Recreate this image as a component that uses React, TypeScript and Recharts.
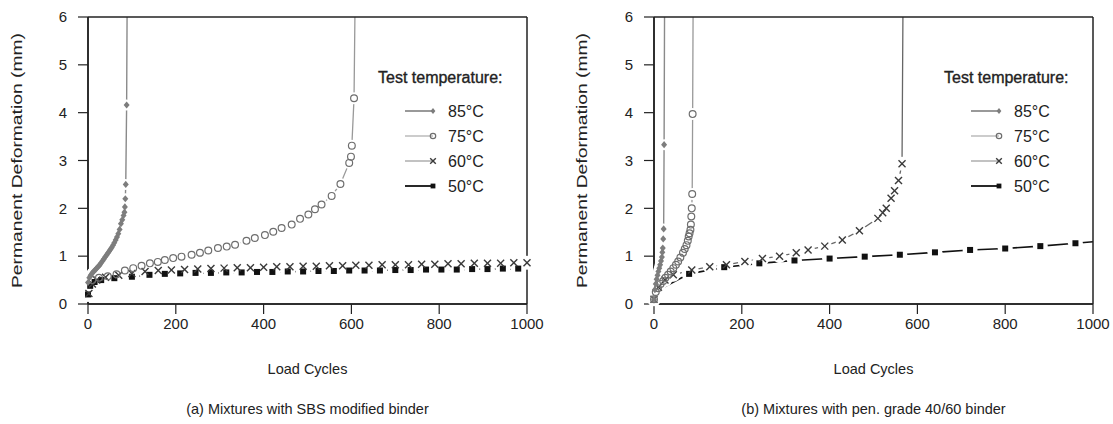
import { ComposedChart, Line, XAxis, YAxis, ReferenceLine, Legend, Label } from "recharts";

const xTicks = [0, 200, 400, 600, 800, 1000];
const yTicks = [0, 1, 2, 3, 4, 5, 6];
const temps = ["85°C", "75°C", "60°C", "50°C"];

// (a) mixtures with SBS modified binder
const a85x = [0, 3, 6, 9, 12, 15, 18, 21, 24, 27, 30, 33, 36, 39, 42, 45, 48, 51, 54, 57, 60, 63, 66, 69, 72, 75, 78, 81, 83, 84, 85, 86, 88, 89];
const a85y = [0.45, 0.55, 0.6, 0.64, 0.67, 0.7, 0.73, 0.76, 0.79, 0.82, 0.86, 0.9, 0.94, 0.98, 1.02, 1.06, 1.1, 1.14, 1.18, 1.23, 1.28, 1.34, 1.4, 1.47, 1.56, 1.68, 1.76, 1.85, 1.92, 2.03, 2.2, 2.5, 4.16, 6];
const a75x = [10, 25, 45, 65, 84, 103, 122, 141, 159, 175, 194, 213, 236, 255, 274, 296, 316, 335, 361, 380, 403, 422, 441, 464, 483, 502, 517, 532, 555, 575, 595, 599, 601, 606, 608];
const a75y = [0.5, 0.55, 0.58, 0.62, 0.7, 0.75, 0.8, 0.85, 0.88, 0.92, 0.96, 0.99, 1.03, 1.07, 1.12, 1.17, 1.2, 1.24, 1.32, 1.38, 1.44, 1.51, 1.59, 1.66, 1.78, 1.87, 1.98, 2.08, 2.26, 2.51, 2.95, 3.08, 3.31, 4.3, 6];
const a60x = [2, 10, 20, 40, 70, 100, 130, 160, 190, 220, 250, 280, 310, 340, 370, 400, 430, 460, 490, 520, 550, 580, 610, 640, 670, 700, 730, 760, 790, 820, 850, 880, 910, 940, 970, 1000];
const a60y = [0.22, 0.42, 0.5, 0.56, 0.6, 0.64, 0.68, 0.7, 0.71, 0.72, 0.73, 0.74, 0.75, 0.76, 0.76, 0.77, 0.78, 0.78, 0.79, 0.79, 0.8, 0.8, 0.81, 0.81, 0.82, 0.82, 0.82, 0.83, 0.83, 0.84, 0.84, 0.85, 0.85, 0.85, 0.86, 0.86];
const a50x = [0, 5, 15, 30, 60, 100, 140, 175, 210, 245, 280, 315, 350, 385, 420, 455, 490, 525, 560, 595, 630, 665, 700, 735, 770, 805, 840, 875, 910, 945, 980];
const a50y = [0.2, 0.38, 0.46, 0.5, 0.54, 0.57, 0.61, 0.63, 0.64, 0.65, 0.65, 0.66, 0.66, 0.67, 0.67, 0.68, 0.68, 0.69, 0.69, 0.7, 0.7, 0.7, 0.71, 0.71, 0.72, 0.72, 0.72, 0.73, 0.73, 0.74, 0.74];

// (b) mixtures with pen. grade 40/60 binder
const b85x = [0, 2, 4, 6, 8, 10, 12, 14, 16, 18, 19, 20, 21, 22, 23, 24];
const b85y = [0.1, 0.3, 0.42, 0.52, 0.6, 0.68, 0.75, 0.82, 0.9, 0.98, 1.08, 1.17, 1.36, 1.57, 3.33, 6];
const b75x = [0, 4, 9, 15, 21, 26, 32, 38, 44, 50, 55, 60, 66, 70, 74, 77, 79, 81, 83, 84, 85, 86, 87, 88, 89];
const b75y = [0.1, 0.25, 0.33, 0.42, 0.48, 0.55, 0.61, 0.68, 0.75, 0.82, 0.89, 0.97, 1.07, 1.15, 1.23, 1.32, 1.41, 1.48, 1.55, 1.66, 1.83, 2.0, 2.3, 3.97, 6];
const b60x = [0, 10, 25, 44, 86, 127, 165, 207, 247, 286, 324, 351, 389, 429, 468, 510, 521, 529, 540, 548, 557, 565, 567];
const b60y = [0.1, 0.35, 0.5, 0.61, 0.71, 0.78, 0.82, 0.89, 0.95, 1.0, 1.07, 1.13, 1.21, 1.34, 1.53, 1.79, 1.91, 2.0, 2.21, 2.37, 2.58, 2.93, 6];
const b50x = [20, 80, 160, 240, 320, 400, 480, 560, 640, 720, 800, 880, 960, 1000];
const b50y = [0.34, 0.63, 0.77, 0.85, 0.91, 0.95, 0.99, 1.03, 1.08, 1.13, 1.16, 1.21, 1.27, 1.3];
const b50bare = [20, 1000];

type Kind = "diamond" | "circle" | "cross" | "square";
type Pt = { x: number; y: number; bare: boolean };

const pts = (xs: number[], ys: number[], bareX: number[] = []): Pt[] =>
  xs.map((x, i) => ({ x, y: ys[i], bare: ys[i] >= 6 || bareX.includes(x) }));

const SERIES: { kind: Kind; stroke: string; width: number; halo: number; legendStroke: string }[] = [
  { kind: "diamond", stroke: "#8a8a8a", width: 1.4, halo: 5.5, legendStroke: "#555" },
  { kind: "circle", stroke: "#999", width: 1.3, halo: 6, legendStroke: "#aaa" },
  { kind: "cross", stroke: "#666", width: 1.3, halo: 7, legendStroke: "#999" },
  { kind: "square", stroke: "#111", width: 1.6, halo: 7.5, legendStroke: "#111" },
];

const FONT = "'Liberation Sans', Arial, sans-serif";

function Marker({ kind, cx, cy, s = 1 }: { kind: Kind; cx: number; cy: number; s?: number }) {
  if (kind === "diamond")
    return (
      <polygon
        points={`${cx},${cy - 3.6 * s} ${cx + 3 * s},${cy} ${cx},${cy + 3.6 * s} ${cx - 3 * s},${cy}`}
        fill="#7d7d7d"
      />
    );
  if (kind === "circle") return <circle cx={cx} cy={cy} r={3.4 * s} fill="none" stroke="#6e6e6e" strokeWidth={1.2} />;
  if (kind === "cross") {
    const d = 3.5 * s;
    return (
      <g stroke="#3a3a3a" strokeWidth={1.4}>
        <line x1={cx - d} y1={cy - d} x2={cx + d} y2={cy + d} />
        <line x1={cx - d} y1={cy + d} x2={cx + d} y2={cy - d} />
      </g>
    );
  }
  return <rect x={cx - 3 * s} y={cy - 3 * s} width={6 * s} height={6 * s} fill="#111" />;
}

const dotFor = (kind: Kind) => (p: any) =>
  p.payload?.bare ? <g key={p.index} /> : <Marker key={p.index} kind={kind} cx={p.cx} cy={p.cy} />;

const haloFor = (r: number) => (p: any) =>
  p.payload?.bare ? <g key={p.index} /> : <circle key={p.index} cx={p.cx} cy={p.cy} r={r} fill="#fff" />;

function LegendBox() {
  return (
    <svg width={160} height={140} style={{ fontFamily: FONT }}>
      <text x={8} y={23} fontSize={16} fill="#222" stroke="#222" strokeWidth={0.35}>
        Test temperature:
      </text>
      {temps.map((t, i) => {
        const cy = 51 + i * 25;
        const s = SERIES[i];
        return (
          <g key={t}>
            <line x1={35} x2={63} y1={cy} y2={cy} stroke={s.legendStroke} strokeWidth={i === 3 ? 1.8 : 1.2} />
            <Marker kind={s.kind} cx={63} cy={cy} s={0.8} />
            <text x={78} y={cy} fontSize={16} fill="#222" dominantBaseline="central">
              {t}
            </text>
          </g>
        );
      })}
    </svg>
  );
}

type PanelProps = {
  series: Pt[][];
  caption: string;
  yAxisWidth: number;
  right: number;
  labelX: number;
  legendLeft: number;
};

function Panel({ series, caption, yAxisWidth, right, labelX, legendLeft }: PanelProps) {
  const order = [3, 2, 1, 0];
  const axisStroke = { stroke: "#222", strokeWidth: 1.5 };
  return (
    <ComposedChart width={556} height={424} margin={{ top: 17, right, bottom: 90, left: 0 }}>
      <XAxis
        type="number"
        dataKey="x"
        domain={[0, 1000]}
        ticks={xTicks}
        interval={0}
        height={30}
        tickSize={10}
        tickMargin={4}
        axisLine={axisStroke}
        tickLine={{ stroke: "#222", strokeWidth: 1.2 }}
        tick={{ fill: "#222", fontSize: 15 }}
      >
        <Label value="Load Cycles" position="bottom" offset={30} style={{ fontSize: 14.5, fill: "#222" }} />
        <Label value={caption} position="bottom" offset={70} style={{ fontSize: 14.5, fill: "#222" }} />
      </XAxis>
      <YAxis
        type="number"
        domain={[0, 6]}
        ticks={yTicks}
        interval={0}
        width={yAxisWidth}
        tickSize={10}
        tickMargin={11}
        axisLine={axisStroke}
        tickLine={{ stroke: "#222", strokeWidth: 1.2 }}
        tick={{ fill: "#222", fontSize: 15 }}
        label={{
          content: () => (
            <text
              transform={`translate(${labelX}, 160.5) rotate(-90)`}
              textAnchor="middle"
              dominantBaseline="central"
              fontSize={14}
              fill="#222"
              textLength={255}
              lengthAdjust="spacingAndGlyphs"
            >
              Permanent Deformation (mm)
            </text>
          ),
        }}
      />
      {order.map((i) => (
        <Line
          key={`line-${i}`}
          data={series[i]}
          dataKey="y"
          name={temps[i]}
          type="linear"
          stroke={SERIES[i].stroke}
          strokeWidth={SERIES[i].width}
          dot={false}
          activeDot={false}
          legendType="none"
          isAnimationActive={false}
        />
      ))}
      {order.map((i) => (
        <Line
          key={`halo-${i}`}
          data={series[i]}
          dataKey="y"
          type="linear"
          stroke="none"
          dot={haloFor(SERIES[i].halo)}
          activeDot={false}
          legendType="none"
          isAnimationActive={false}
        />
      ))}
      {order.map((i) => (
        <Line
          key={`mark-${i}`}
          data={series[i]}
          dataKey="y"
          type="linear"
          stroke="none"
          dot={dotFor(SERIES[i].kind)}
          activeDot={false}
          legendType="none"
          isAnimationActive={false}
        />
      ))}
      <ReferenceLine x={0} stroke="#222" strokeWidth={1.5} />
      <ReferenceLine y={0} stroke="#222" strokeWidth={1.5} />
      <ReferenceLine y={6} stroke="#222" strokeWidth={1.5} />
      <ReferenceLine x={1000} stroke="#222" strokeWidth={1.5} />
      <Legend
        verticalAlign="middle"
        align="center"
        layout="horizontal"
        wrapperStyle={{ left: legendLeft, top: 60, width: 160, height: 140 }}
        content={() => <LegendBox />}
      />
    </ComposedChart>
  );
}

export default function App() {
  const seriesA = [pts(a85x, a85y), pts(a75x, a75y), pts(a60x, a60y), pts(a50x, a50y)];
  const seriesB = [pts(b85x, b85y), pts(b75x, b75y), pts(b60x, b60y), pts(b50x, b50y, b50bare)];
  return (
    <div
      style={{
        position: "absolute",
        left: 0,
        top: 0,
        width: 1113,
        height: 424,
        background: "#fff",
        fontFamily: FONT,
      }}
    >
      <div style={{ position: "absolute", left: 0, top: 0 }}>
        <Panel
          series={seriesA}
          caption="(a) Mixtures with SBS modified binder"
          yAxisWidth={88}
          right={29}
          labelX={17}
          legendLeft={370}
        />
      </div>
      <div style={{ position: "absolute", left: 556, top: 0 }}>
        <Panel
          series={seriesB}
          caption="(b)  Mixtures with pen. grade 40/60 binder"
          yAxisWidth={98}
          right={19}
          labelX={26}
          legendLeft={380}
        />
      </div>
    </div>
  );
}
